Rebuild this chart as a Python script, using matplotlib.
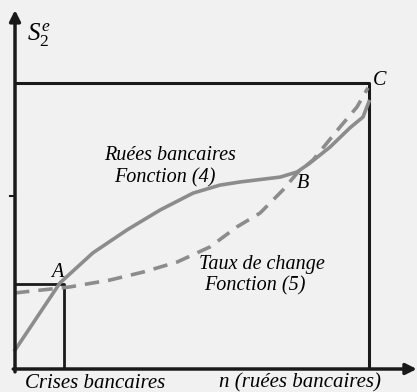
import numpy as np
import matplotlib.pyplot as plt

plt.rcParams['font.family'] = ['Liberation Serif', 'DejaVu Serif']
plt.rcParams['mathtext.fontset'] = 'custom'
plt.rcParams['mathtext.it'] = 'Liberation Serif:italic'
plt.rcParams['mathtext.rm'] = 'Liberation Serif'

# courbe Fonction (4) : ruées bancaires (trait plein)
x_ruees = [0.0, 0.127, 0.220, 0.316, 0.410, 0.503, 0.579, 0.636, 0.749, 0.797,
           0.833, 0.890, 0.946, 0.983, 1.0]
y_ruees = [0.066, 0.301, 0.406, 0.486, 0.556, 0.615, 0.643, 0.654, 0.671, 0.689,
           0.720, 0.776, 0.843, 0.881, 0.935]

# courbe Fonction (5) : taux de change (tirets)
x_taux = [0.0, 0.155, 0.268, 0.362, 0.458, 0.551, 0.627, 0.692, 0.757, 0.797,
          0.842, 0.918, 0.966, 0.997]
y_taux = [0.266, 0.287, 0.311, 0.339, 0.374, 0.427, 0.497, 0.545, 0.626, 0.685,
          0.731, 0.846, 0.916, 0.983]

# points remarquables
pts = {'A': (0.138, 0.297), 'B': (0.797, 0.689), 'C': (1.0, 1.0)}
y_tick = 0.605

fig = plt.figure(figsize=(4.17, 3.92), dpi=100, facecolor='#f1f1f1')
ax = fig.add_axes([0, 0, 1, 1])
ax.set_facecolor('#f1f1f1')
ax.set_xlim(-0.0424, 1.1356)
ax.set_ylim(-0.0804, 1.2902)
ax.axis('off')

# axes avec flèches
ax.annotate('', xy=(1.135, 0), xytext=(-0.005, 0),
            arrowprops=dict(arrowstyle='-|>', lw=2.5, color='#1a1a1a', mutation_scale=16, shrinkA=0, shrinkB=0))
ax.annotate('', xy=(0, 1.255), xytext=(0, -0.01),
            arrowprops=dict(arrowstyle='-|>', lw=2.5, color='#1a1a1a', mutation_scale=16, shrinkA=0, shrinkB=0))

# grand carré et petit carré
xa, ya = pts['A']
xc, yc = pts['C']
ax.plot([0, xc, xc], [yc, yc, 0], color='#1a1a1a', lw=2.2, solid_capstyle='butt')
ax.plot([0, xa, xa], [ya, ya, 0], color='#1a1a1a', lw=2.0, solid_capstyle='butt')
ax.plot([-0.015, 0], [y_tick, y_tick], color='#1a1a1a', lw=1.5)

# courbes
ax.plot(x_ruees, y_ruees, color='#8c8c8c', lw=2.6, solid_joinstyle='round')
ax.plot(x_taux, y_taux, color='#8c8c8c', lw=2.6, ls=(0, (4, 2.5)))

fs = 14.5
ax.text(0.119, 0.339, 'A', fontsize=fs, style='italic', ha='center', va='center')
ax.text(0.814, 0.650, 'B', fontsize=fs, style='italic', ha='center', va='center')
ax.text(1.031, 1.010, 'C', fontsize=fs, style='italic', ha='center', va='center')
ax.text(0.438, 0.745, 'Ruées bancaires', fontsize=fs, style='italic', ha='center', va='center')
ax.text(0.424, 0.668, 'Fonction (4)', fontsize=fs, style='italic', ha='center', va='center')
ax.text(0.698, 0.364, 'Taux de change', fontsize=fs, style='italic', ha='center', va='center')
ax.text(0.678, 0.292, 'Fonction (5)', fontsize=fs, style='italic', ha='center', va='center')
ax.text(0.226, -0.049, 'Crises bancaires', fontsize=15, style='italic', ha='center', va='center')
ax.text(0.805, -0.049, 'n (ruées bancaires)', fontsize=15, style='italic', ha='center', va='center')
ax.text(0.068, 1.168, r'$S_2^e$', fontsize=18, ha='center', va='center')

fig.savefig('out.png', dpi=100, facecolor=fig.get_facecolor())
